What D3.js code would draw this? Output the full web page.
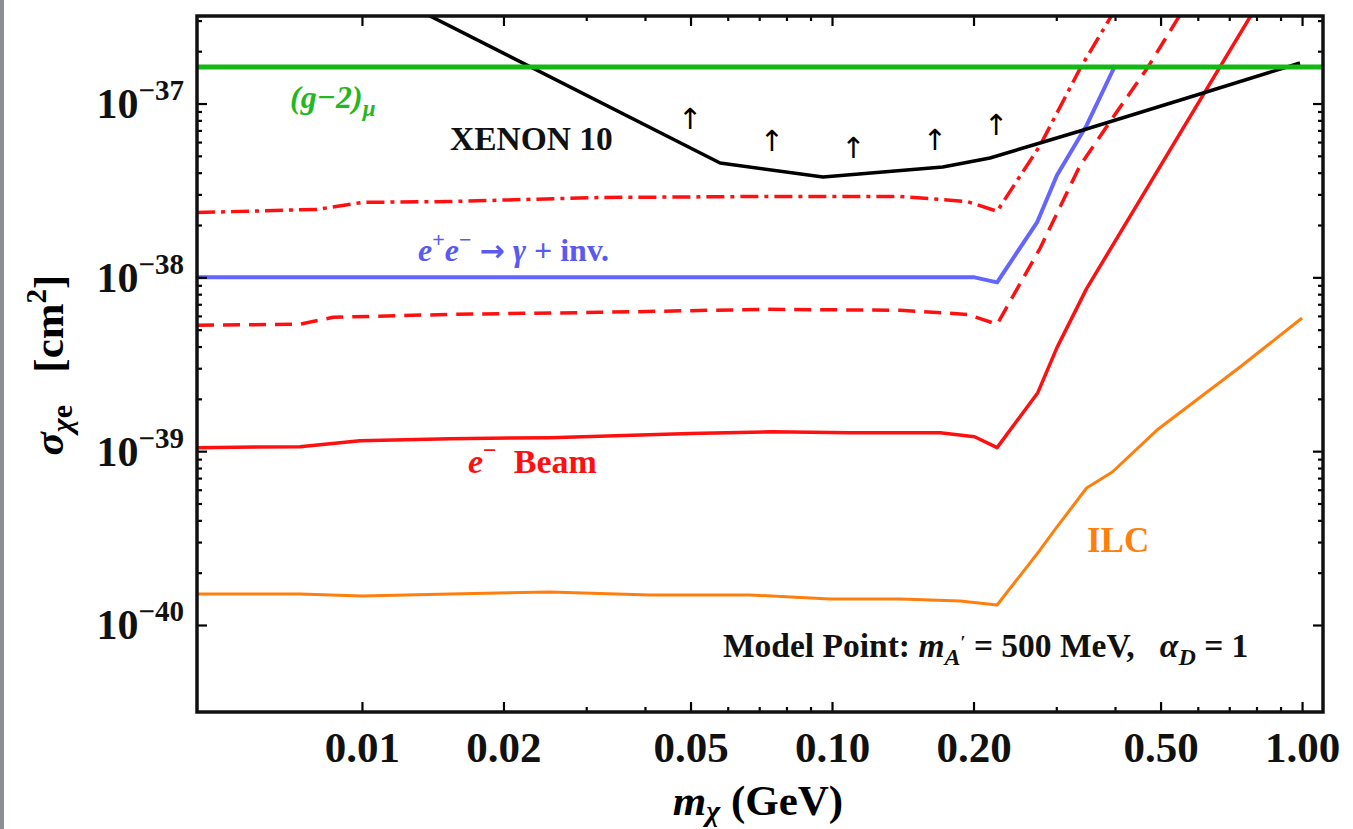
<!DOCTYPE html>
<html lang="en">
<head>
  <meta charset="UTF-8">
  <title>Dark matter electron scattering sensitivity</title>
  <style>
    body { margin: 0; background: #fff; }
    svg text { font-family: "Liberation Serif", "Times New Roman", serif; font-weight: bold; }
  </style>
</head>
<body>
  <svg id="chart" width="1353" height="829"></svg>

  <script src="https://d3js.org/d3.v7.min.js"></script>
  <script>
    // ---- data (mass in GeV, cross section in cm^2) ----
    const massG2 = [0.004457, 1.108];
    const sigmaG2 = [1.62e-37, 1.62e-37];

    const massXenon = [0.012, 0.0578, 0.0957, 0.172, 0.2168, 0.277, 0.337, 0.616, 0.99];
    const sigmaXenon = [3.92e-37, 4.55e-38, 3.78e-38, 4.31e-38, 4.86e-38, 5.93e-38, 6.95e-38, 1.15e-37, 1.71e-37];

    const massDashDot = [0.004457, 0.00802, 0.01005, 0.01539, 0.0321, 0.0727, 0.1397, 0.1938, 0.2245, 0.2771, 0.3371, 0.3948, 0.435];
    const sigmaDashDot = [2.36e-38, 2.46e-38, 2.70e-38, 2.73e-38, 2.88e-38, 2.92e-38, 2.92e-38, 2.73e-38, 2.40e-38, 5.74e-38, 1.59e-37, 3.26e-37, 4.98e-37];

    const massMono = [0.004457, 0.05, 0.201, 0.2245, 0.273, 0.301, 0.348, 0.4005];
    const sigmaMono = [1.0e-38, 1.0e-38, 1.0e-38, 9.36e-39, 2.07e-38, 3.87e-38, 7.48e-38, 1.66e-37];

    const massDashed = [0.004457, 0.00738, 0.00868, 0.01539, 0.0321, 0.0727, 0.1397, 0.1938, 0.2245, 0.2771, 0.3371, 0.3948, 0.468, 0.6067];
    const sigmaDashed = [5.30e-39, 5.37e-39, 5.89e-39, 6.12e-39, 6.29e-39, 6.55e-39, 6.46e-39, 6.12e-39, 5.37e-39, 1.47e-38, 4.40e-38, 8.22e-38, 1.59e-37, 4.98e-37];

    const massBeam = [0.004457, 0.00738, 0.0099, 0.01539, 0.0251, 0.0499, 0.0745, 0.1092, 0.1698, 0.201, 0.2245, 0.274, 0.301, 0.348, 0.855];
    const sigmaBeam = [1.048e-39, 1.061e-39, 1.149e-39, 1.18e-39, 1.196e-39, 1.262e-39, 1.294e-39, 1.277e-39, 1.277e-39, 1.211e-39, 1.048e-39, 2.17e-39, 3.94e-39, 8.61e-39, 4.89e-37];

    const massILC = [0.004457, 0.00738, 0.01, 0.01539, 0.0251, 0.041, 0.0669, 0.099, 0.1397, 0.1873, 0.2245, 0.2771, 0.301, 0.348, 0.3948, 0.4913, 0.738, 1.0];
    const sigmaILC = [1.508e-40, 1.508e-40, 1.468e-40, 1.508e-40, 1.548e-40, 1.488e-40, 1.488e-40, 1.411e-40, 1.411e-40, 1.374e-40, 1.303e-40, 2.701e-40, 3.663e-40, 6.137e-40, 7.588e-40, 1.323e-39, 3.05e-39, 5.834e-39];

    // the little "excluded above" arrows under the XENON 10 curve
    const arrowMass = [0.0499, 0.0745, 0.111, 0.1655, 0.2234];
    const arrowSigma = [8.15e-38, 6.08e-38, 5.55e-38, 6.17e-38, 7.52e-38];

    // ticks
    const xTickVals = [0.01, 0.02, 0.05, 0.1, 0.2, 0.5, 1.0];
    const xTickLabels = ["0.01", "0.02", "0.05", "0.10", "0.20", "0.50", "1.00"];
    const xMinorVals = [0.03, 0.04, 0.06, 0.07, 0.08, 0.09, 0.3, 0.4, 0.6, 0.7, 0.8, 0.9];
    const yTickVals = [1e-40, 1e-39, 1e-38, 1e-37];
    const yTickExps = ["\u221240", "\u221239", "\u221238", "\u221237"];

    const pLeft = 197, pRight = 1323, pTop = 16, pBottom = 712;

    const svg = d3.select("#chart");

    // grey strip down the left edge of the original screenshot
    svg.append("rect").attr("x", 0).attr("y", 0).attr("width", 4).attr("height", 829).attr("fill", "#8b8e93");

    const xScale = d3.scaleLog()
      .domain([0.004457, 1.108])
      .range([pLeft, pRight]);

    const yScale = d3.scaleLog()
      .domain([Math.pow(10, -40.5005), Math.pow(10, -36.4966)])
      .range([pBottom, pTop]);

    const yMinorVals = [];
    [-40, -39, -38, -37].forEach(e => {
      for (let k = 2; k <= 9; k++) {
        const v = k * Math.pow(10, e);
        if (v < yScale.domain()[1]) yMinorVals.push(v);
      }
    });

    svg.append("clipPath").attr("id", "plotClip")
      .append("rect")
      .attr("x", pLeft).attr("y", pTop)
      .attr("width", pRight - pLeft).attr("height", pBottom - pTop);

    const line = d3.line()
      .x(d => xScale(d[0]))
      .y(d => yScale(d[1]));

    const curves = [
      { m: massILC, s: sigmaILC, color: "#ff7f0e", width: 3, dash: null },
      { m: massBeam, s: sigmaBeam, color: "#ff1010", width: 3.5, dash: null },
      { m: massDashed, s: sigmaDashed, color: "#ff1010", width: 3.5, dash: "17,9" },
      { m: massDashDot, s: sigmaDashDot, color: "#ff1010", width: 3.5, dash: "18,6,4,6" },
      { m: massMono, s: sigmaMono, color: "#6464ff", width: 4, dash: null },
      { m: massXenon, s: sigmaXenon, color: "#000000", width: 3.5, dash: null },
      { m: massG2, s: sigmaG2, color: "#14b814", width: 5, dash: null }
    ];

    const plot = svg.append("g").attr("clip-path", "url(#plotClip)");

    curves.forEach(c => {
      plot.append("path")
        .datum(c.m.map((m, i) => [m, c.s[i]]))
        .attr("d", line)
        .attr("fill", "none")
        .attr("stroke", c.color)
        .attr("stroke-width", c.width)
        .attr("stroke-linejoin", "round")
        .attr("stroke-dasharray", c.dash);
    });

    plot.selectAll(".arrow")
      .data(arrowMass.map((m, i) => [m, arrowSigma[i]]))
      .enter()
      .append("text")
      .attr("class", "arrow")
      .attr("x", d => xScale(d[0]))
      .attr("y", d => yScale(d[1]) + 10)
      .attr("text-anchor", "middle")
      .style("font-family", "DejaVu Sans")
      .style("font-weight", "normal")
      .style("font-size", "29px")
      .text("\u2191");

    // ---- axes (ticks point inwards on all four sides) ----
    function tickAxis(axis, vals, size) {
      return axis.tickValues(vals).tickSize(-size).tickFormat("");
    }
    const frameTicks = [
      [d3.axisBottom(xScale), xTickVals, 10, `translate(0,${pBottom})`],
      [d3.axisBottom(xScale), xMinorVals, 5, `translate(0,${pBottom})`],
      [d3.axisTop(xScale), xTickVals, 10, `translate(0,${pTop})`],
      [d3.axisTop(xScale), xMinorVals, 5, `translate(0,${pTop})`],
      [d3.axisLeft(yScale), yTickVals, 10, `translate(${pLeft},0)`],
      [d3.axisLeft(yScale), yMinorVals, 5, `translate(${pLeft},0)`],
      [d3.axisRight(yScale), yTickVals, 10, `translate(${pRight},0)`],
      [d3.axisRight(yScale), yMinorVals, 5, `translate(${pRight},0)`]
    ];
    frameTicks.forEach(([axis, vals, size, tr]) => {
      const g = svg.append("g").attr("transform", tr).call(tickAxis(axis, vals, size));
      g.select(".domain").remove();
      g.selectAll("line").attr("stroke", "#000").attr("stroke-width", 2.2);
    });

    svg.append("rect")
      .attr("x", pLeft).attr("y", pTop)
      .attr("width", pRight - pLeft).attr("height", pBottom - pTop)
      .attr("fill", "none").attr("stroke", "#111").attr("stroke-width", 3.5);

    // x tick labels
    const xLab = svg.append("g")
      .attr("transform", `translate(0,${pBottom})`)
      .call(d3.axisBottom(xScale).tickValues(xTickVals).tickSize(0).tickPadding(19)
        .tickFormat((d, i) => xTickLabels[i]));
    xLab.select(".domain").remove();
    xLab.selectAll("text")
      .attr("fill", "#111")
      .style("font-family", "Liberation Serif")
      .style("font-weight", "bold")
      .style("font-size", "43px");

    // y tick labels 10^n
    yTickVals.forEach((v, i) => {
      const t = svg.append("text")
        .attr("x", 184)
        .attr("y", yScale(v) + 14.5)
        .attr("text-anchor", "end")
        .attr("fill", "#111")
        .style("font-size", "42px");
      t.append("tspan").text("10");
      t.append("tspan").attr("dy", -18).style("font-size", "29px").text(yTickExps[i]);
    });

    // axis titles
    const xt = svg.append("text")
      .attr("x", 758).attr("y", 815)
      .attr("text-anchor", "middle")
      .style("font-size", "43px");
    xt.append("tspan").style("font-style", "italic").text("m");
    xt.append("tspan").attr("dy", 6).style("font-style", "italic").style("font-size", "30px").text("\u03c7");
    xt.append("tspan").attr("dy", -6).text("\u00a0(GeV)");

    const yt = svg.append("text")
      .attr("transform", "translate(63,365) rotate(-90)")
      .attr("text-anchor", "middle")
      .style("font-size", "43px");
    yt.append("tspan").style("font-style", "italic").text("\u03c3");
    yt.append("tspan").attr("dy", 9).style("font-style", "italic").style("font-size", "30px").text("\u03c7");
    yt.append("tspan").style("font-size", "30px").text("e");
    yt.append("tspan").attr("dy", -9).text("\u00a0\u00a0\u00a0[cm");
    yt.append("tspan").attr("dy", -17).style("font-size", "29px").text("2");
    yt.append("tspan").attr("dy", 17).text("]");

    // ---- curve labels ----
    const g2 = svg.append("text").attr("x", 290).attr("y", 108)
      .attr("fill", "#22b822").style("font-size", "32px").style("font-style", "italic");
    g2.append("tspan").text("(g\u22122)");
    g2.append("tspan").attr("dy", 8).style("font-size", "23px").text("\u03bc");

    svg.append("text").attr("x", 450).attr("y", 150)
      .attr("fill", "#111").style("font-size", "33.5px").text("XENON 10");

    const mono = svg.append("text").attr("x", 418).attr("y", 261)
      .attr("fill", "#5a5af0").style("font-size", "32px");
    mono.append("tspan").style("font-style", "italic").text("e");
    mono.append("tspan").attr("dy", -14).style("font-size", "22px").text("+");
    mono.append("tspan").attr("dy", 14).style("font-style", "italic").text("e");
    mono.append("tspan").attr("dy", -14).style("font-size", "22px").text("\u2212");
    mono.append("tspan").attr("dy", 14).text("\u00a0");
    mono.append("tspan").style("font-family", "DejaVu Sans").style("font-size", "30px").text("\u2192");
    mono.append("tspan").text("\u00a0");
    mono.append("tspan").style("font-style", "italic").text("\u03b3");
    mono.append("tspan").text("\u00a0+ inv.");

    const beam = svg.append("text").attr("x", 468).attr("y", 473)
      .attr("fill", "#ff1010").style("font-size", "34px");
    beam.append("tspan").style("font-style", "italic").text("e");
    beam.append("tspan").attr("dy", -15).style("font-size", "24px").text("\u2212");
    beam.append("tspan").attr("dy", 15).text("\u00a0\u00a0Beam");

    svg.append("text").attr("x", 1087).attr("y", 552)
      .attr("fill", "#ff7f0e").style("font-size", "35px").text("ILC");

    const mp = svg.append("text").attr("x", 723).attr("y", 657)
      .attr("fill", "#111").style("font-size", "33.5px");
    mp.append("tspan").text("Model Point:\u00a0");
    mp.append("tspan").style("font-style", "italic").text("m");
    mp.append("tspan").attr("dy", 8).style("font-style", "italic").style("font-size", "24px").text("A");
    mp.append("tspan").attr("dy", -16).style("font-size", "18px").text("\u2032");
    mp.append("tspan").attr("dy", 8).text("\u00a0=\u00a0500 MeV,\u00a0\u00a0\u00a0");
    mp.append("tspan").style("font-style", "italic").text("\u03b1");
    mp.append("tspan").attr("dy", 8).style("font-style", "italic").style("font-size", "24px").text("D");
    mp.append("tspan").attr("dy", -8).text("\u00a0=\u00a01");
  </script>
</body>
</html>
